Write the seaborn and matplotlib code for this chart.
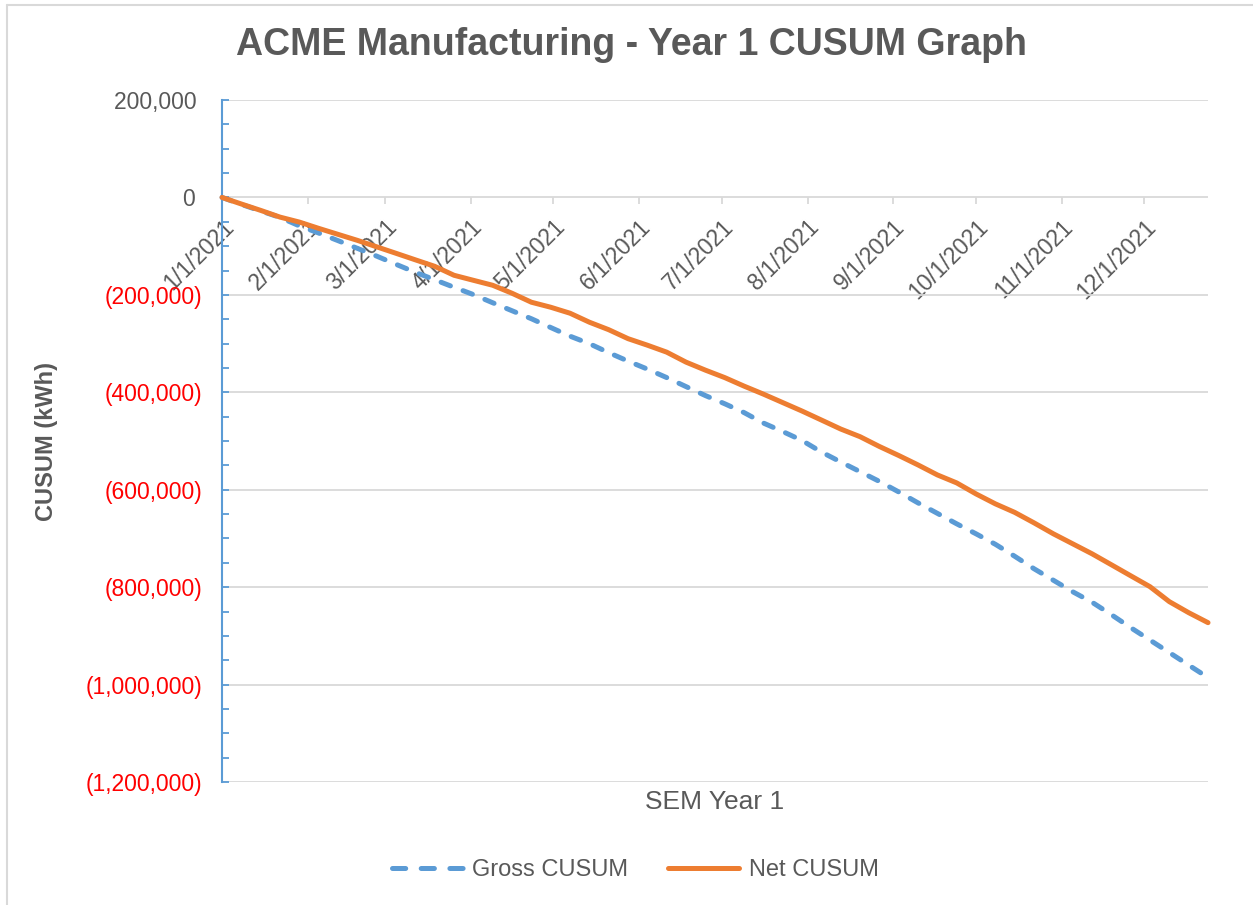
import pandas as pd
import matplotlib
matplotlib.use("Agg")
import matplotlib.pyplot as plt
import matplotlib.dates as mdates
from matplotlib import font_manager
from matplotlib.lines import Line2D
from matplotlib.ticker import FixedLocator, MultipleLocator
import seaborn as sns

# ================= Data (weekly CUSUM, kWh) =================
start_date = "2021-01-01"
n_weeks = 52

gross_cusum = [
    0, -14300, -27700, -41000, -58400, -73100, -88700, -104500, -120500, -137300,
    -153700, -169000, -184400, -199400, -216200, -232600, -249000, -267000, -284800, -300200,
    -318600, -336000, -352400, -369800, -388300, -406700, -423500, -441600, -463100, -480500,
    -498900, -522500, -543000, -562900, -582900, -604500, -627000, -648500, -670000, -690500,
    -712000, -736600, -762200, -785800, -809400, -830900, -856500, -883100, -908700, -934300,
    -960000, -985600,
]
net_cusum = [
    0, -13500, -26600, -40400, -50600, -63500, -75800, -88100, -101400, -114700,
    -128100, -141400, -159800, -170100, -180300, -196700, -215100, -225400, -237700, -256100,
    -271500, -289900, -303300, -317600, -338100, -354500, -369800, -387300, -403700, -421100,
    -438500, -456900, -475400, -491100, -511200, -529700, -549100, -569600, -586000, -608600,
    -629000, -646500, -668000, -690500, -711000, -731500, -754000, -776600, -799100, -829800,
    -852400, -872900,
]
y_ticks = [200000, 0, -200000, -400000, -600000, -800000, -1000000, -1200000]

title = "ACME Manufacturing - Year 1 CUSUM Graph"
x_label = "SEM Year 1"
y_label = "CUSUM (kWh)"
series_names = ["Gross CUSUM", "Net CUSUM"]

dates = pd.date_range(start_date, periods=n_weeks, freq="7D")
df = pd.DataFrame({"date": dates, "gross": gross_cusum, "net": net_cusum})

# ================= Style =================
BLUE = "#5B9BD5"
ORANGE = "#ED7D31"
TEXT = "#595959"
GRID = "#D9D9D9"

sns.set_style("white")
plt.rcParams["font.family"] = ["Liberation Sans", "DejaVu Sans"]

installed = {f.name for f in font_manager.fontManager.ttflist}
if "Liberation Sans Narrow" in installed:
    title_family, title_size = ["Liberation Sans Narrow", "Liberation Sans"], 31
else:
    title_family, title_size = ["Liberation Sans", "DejaVu Sans"], 27

fig = plt.figure(figsize=(12.53, 9.05), dpi=100)
ax = fig.add_axes([0.1772, 0.1359, 0.7869, 0.7536])

sns.lineplot(data=df, x="date", y="gross", ax=ax, color=BLUE, lw=3.6,
             linestyle=(0, (2.0, 2.7)), dash_capstyle="round",
             legend=False, zorder=3, clip_on=False)
sns.lineplot(data=df, x="date", y="net", ax=ax, color=ORANGE, lw=3.6,
             solid_capstyle="round", legend=False, zorder=3, clip_on=False)

# ================= Axes =================
ax.set_xlim(dates[0], dates[-1])
ax.set_ylim(-1200000, 200000)

ax.spines["top"].set_visible(False)
ax.spines["right"].set_visible(False)
ax.spines["bottom"].set_position(("data", 0))
ax.spines["bottom"].set_visible(False)
ax.spines["left"].set_color(BLUE)
ax.spines["left"].set_linewidth(1.5)

ax.yaxis.set_major_locator(FixedLocator(y_ticks))
ax.yaxis.set_minor_locator(MultipleLocator(50000))


def fmt(v):
    return f"{v:,.0f} " if v >= 0 else f"({-v:,.0f})"


ax.set_yticklabels([fmt(v) for v in y_ticks])
for lab, v in zip(ax.get_yticklabels(), y_ticks):
    lab.set_color(TEXT if v >= 0 else "#FF0000")
ax.tick_params(axis="y", which="both", direction="in", length=5, width=1.3,
               color=BLUE, labelsize=16.5, pad=14, left=True)

ax.xaxis.set_major_locator(mdates.MonthLocator())
ax.xaxis.set_major_formatter(
    plt.FuncFormatter(lambda x, pos: (lambda d: f"{d.month}/{d.day}/{d.year}")(mdates.num2date(x)))
)
ax.tick_params(axis="x", which="major", direction="out", length=5, width=1.3,
               color=GRID, labelsize=16.5, labelcolor=TEXT, pad=8, bottom=True)
for lab in ax.get_xticklabels():
    lab.set_rotation(45)
    lab.set_ha("right")
    lab.set_va("top")
    lab.set_rotation_mode("anchor")

ax.yaxis.grid(True, which="major", color=GRID, lw=1.3)
ax.xaxis.grid(False)
ax.set_axisbelow(True)

ax.set_ylabel(y_label, fontsize=17, fontweight="bold", color=TEXT)
ax.yaxis.set_label_coords(-0.166, 0.5)
ax.set_xlabel(x_label, fontsize=19, color=TEXT)
ax.xaxis.set_label_coords(0.5, -0.012)

fig.text(0.5036, 0.950, title, ha="center", va="center", fontsize=title_size,
         fontweight="bold", color=TEXT, family=title_family)

# legend proxies: dash pattern tuned so the handle shows three whole dashes
handles = [
    Line2D([], [], color=BLUE, lw=3.6, linestyle=(0, (2.64, 3.1)), dash_capstyle="round"),
    Line2D([], [], color=ORANGE, lw=3.6, solid_capstyle="round"),
]
fig.legend(handles=handles, labels=series_names,
           loc="center", bbox_to_anchor=(0.507, 0.0387), ncol=2, frameon=False,
           fontsize=17, handlelength=3, handletextpad=0.4, columnspacing=1.7,
           labelcolor=TEXT)

# light chart border (top and left edges visible in the original)
fig.add_artist(Line2D([7 / 1253, 7 / 1253], [0, 1 - 5 / 905], transform=fig.transFigure,
                      color=GRID, lw=1.5))
fig.add_artist(Line2D([7 / 1253, 1], [1 - 5 / 905, 1 - 5 / 905], transform=fig.transFigure,
                      color=GRID, lw=1.5))

fig.savefig("out.png", dpi=100)
